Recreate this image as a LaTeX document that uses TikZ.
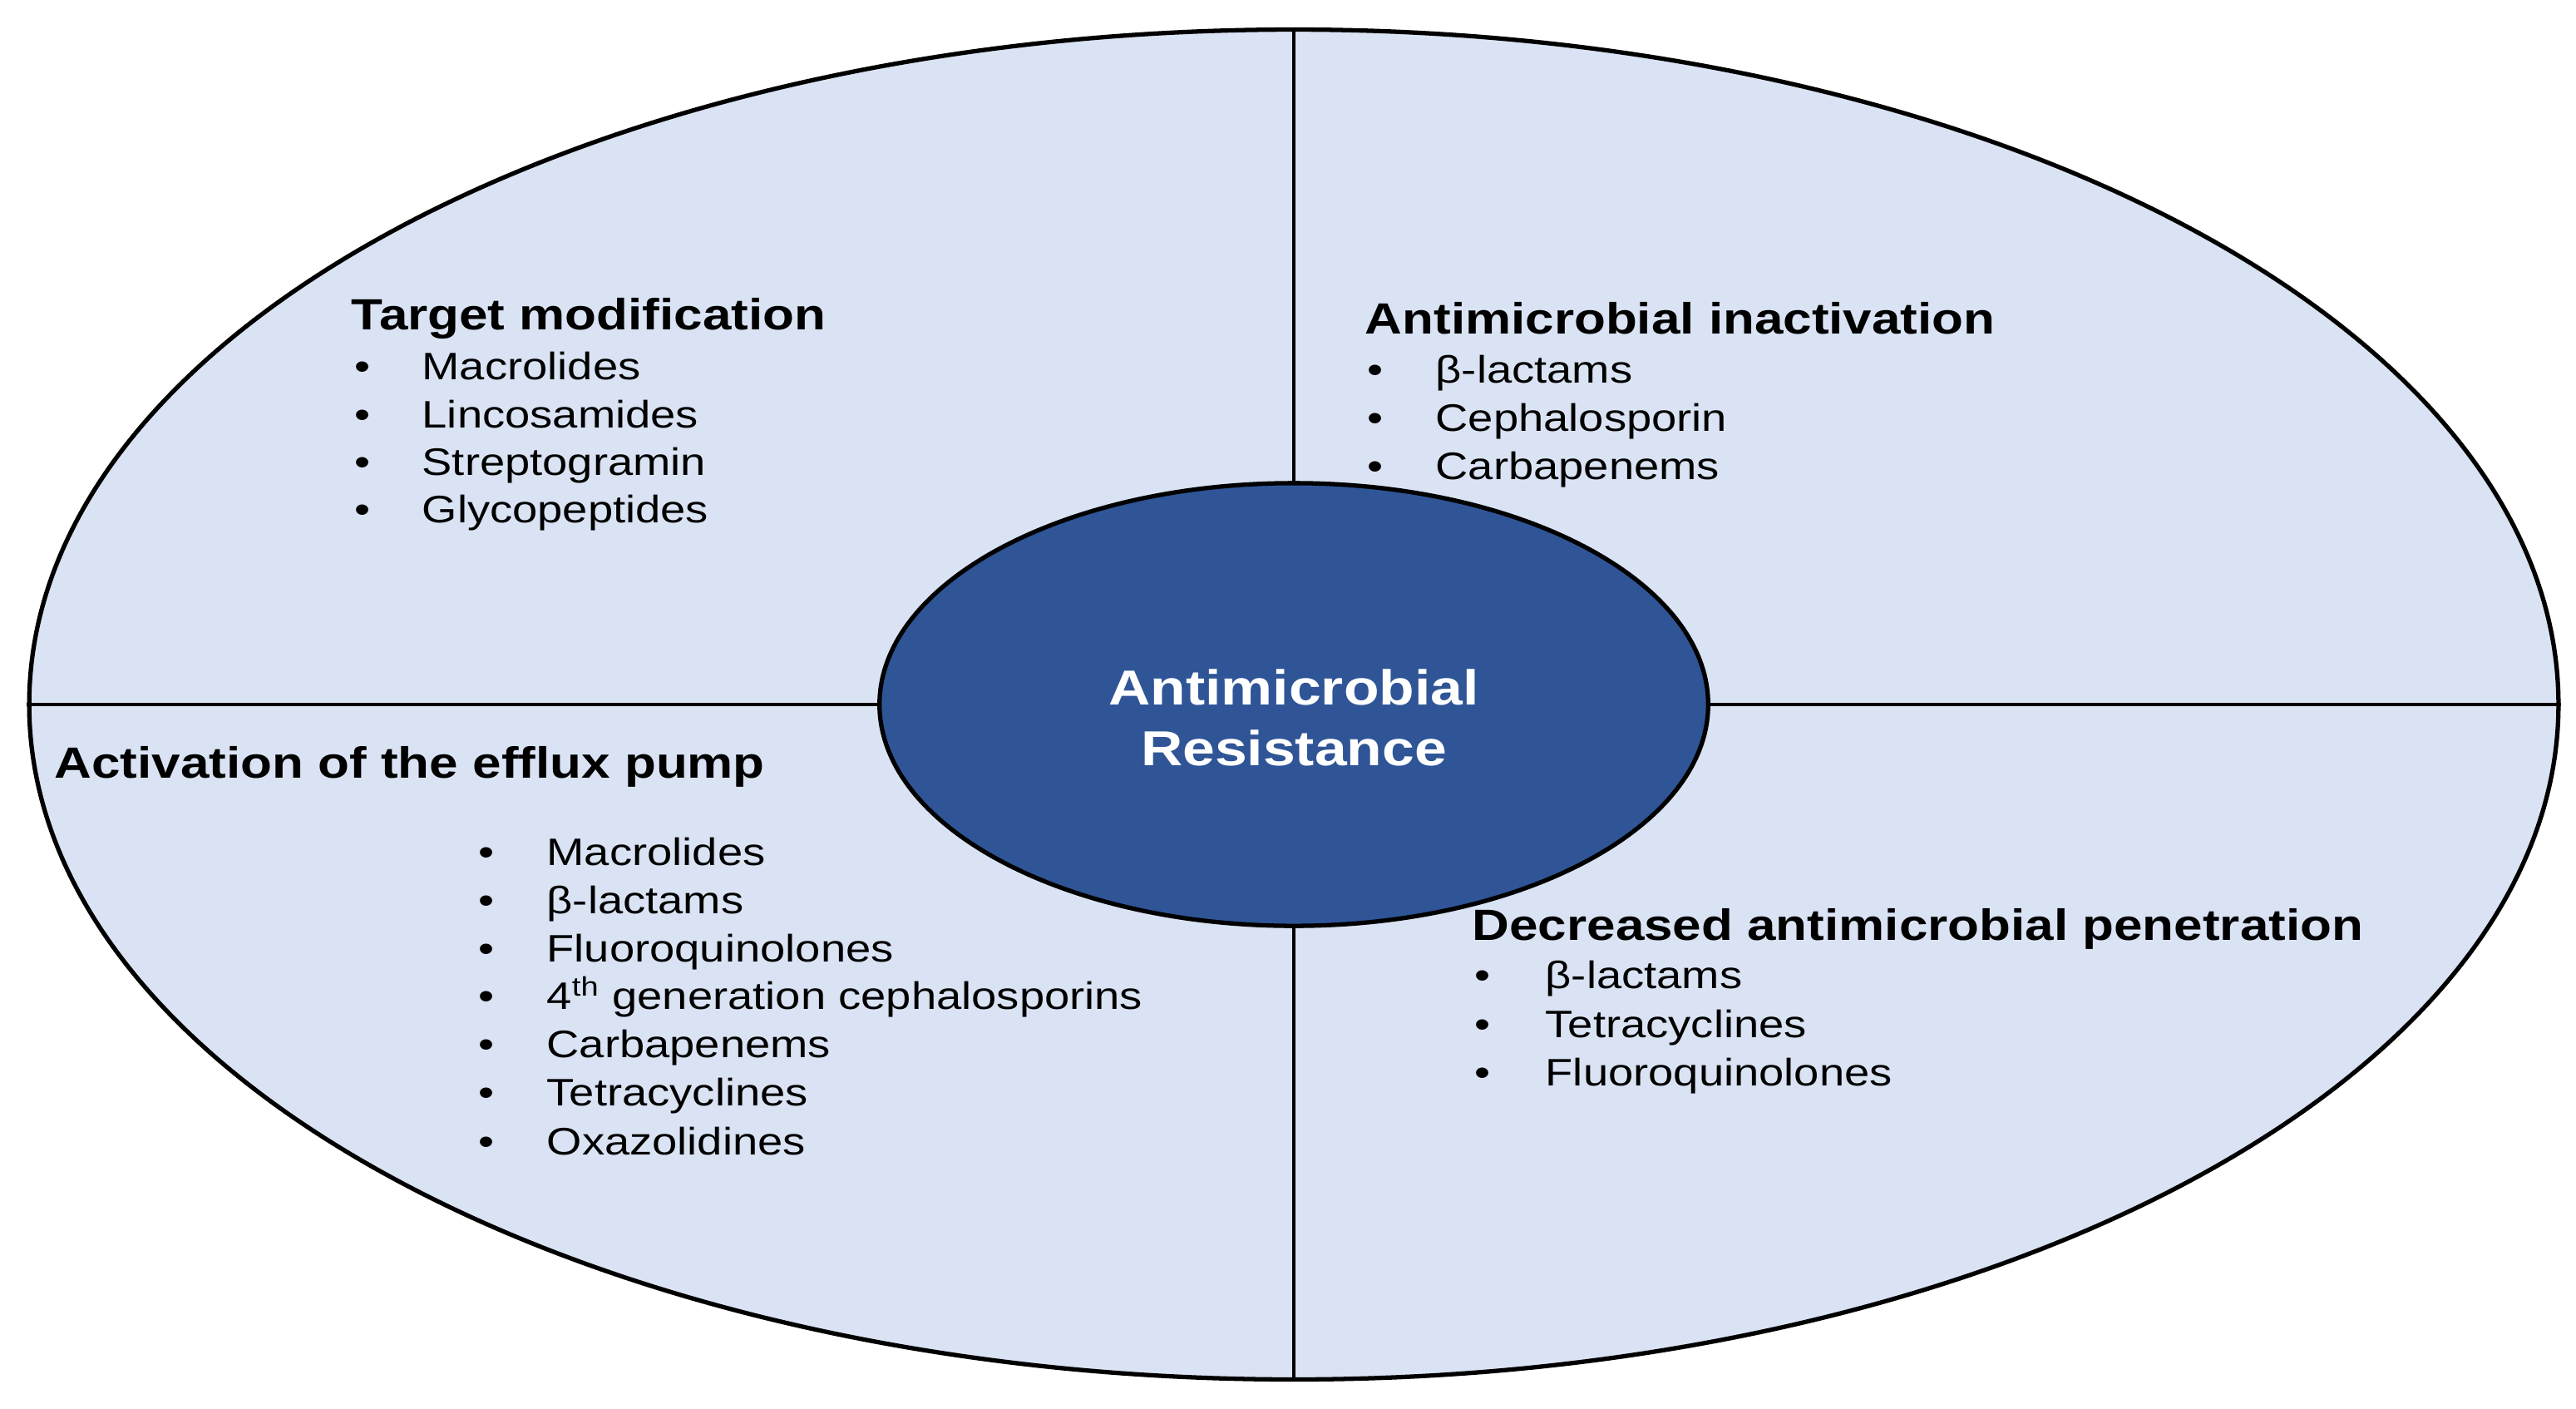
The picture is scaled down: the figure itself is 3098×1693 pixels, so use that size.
\documentclass[tikz,border=0pt]{standalone}
\usepackage{fontspec}
\setmainfont{Liberation Sans}[FakeStretch=1.18]
\usetikzlibrary{shapes.geometric}
\definecolor{outerfill}{HTML}{DAE3F3}
\definecolor{innerfill}{HTML}{2F5597}
\tikzset{
  heading/.style={anchor=base west, inner sep=0pt, font=\fontsize{14.94pt}{18pt}\selectfont\bfseries},
  item/.style={anchor=base west, inner sep=0pt, font=\fontsize{13.1pt}{16pt}\selectfont},
  centertext/.style={anchor=base, inner sep=0pt, text=white, font=\fontsize{16.79pt}{20pt}\selectfont\bfseries},
  divider/.style={draw=black, line width=1.2pt},
}
\begin{document}
\begin{tikzpicture}[x=0.01cm, y=-0.01cm]
\useasboundingbox (0,0) rectangle (3098,1693);
\node[ellipse, draw=black, line width=1.5pt, fill=outerfill, inner sep=0pt,
      minimum width=30.40cm, minimum height=16.22cm] (outer) at (1556,847) {};
\node[ellipse, inner sep=0pt, minimum width=9.96cm, minimum height=5.32cm] (innerpos) at (1556,847) {};
\draw[divider] (outer.north) -- (innerpos.north);
\draw[divider] (outer.south) -- (innerpos.south);
\draw[divider] (outer.west) -- (innerpos.west);
\draw[divider] (outer.east) -- (innerpos.east);
\node[ellipse, draw=black, line width=1.5pt, fill=innerfill, inner sep=0pt,
      minimum width=9.96cm, minimum height=5.32cm] (inner) at (1556,847) {};
\node[centertext] (c1) at (1556,847) {Antimicrobial};
\node[centertext] (c2) at (1556,920) {Resistance};
% Target modification
\node[heading] (tmh) at (422,396) {Target modification};
\foreach \y/\t [count=\i] in {456/Macrolides, 514/Lincosamides, 571/Streptogramin, 628/Glycopeptides}{
  \node[item] (tmb\i) at (426,\y) {•};
  \node[item] (tmt\i) at (507,\y) {\t};
}
% Antimicrobial inactivation
\node[heading] (aih) at (1641,401) {Antimicrobial inactivation};
\foreach \y/\t [count=\i] in {460/β-lactams, 518/Cephalosporin, 576/Carbapenems}{
  \node[item] (aib\i) at (1644,\y) {•};
  \node[item] (ait\i) at (1726,\y) {\t};
}
% Activation of the efflux pump
\node[heading] (efh) at (65,935) {Activation of the efflux pump};
\foreach \y/\t [count=\i] in {1040/Macrolides, 1098/β-lactams, 1156/Fluoroquinolones, 1213/{4\textsuperscript{th} generation cephalosporins}, 1271/Carbapenems, 1329/Tetracyclines, 1388/Oxazolidines}{
  \node[item] (efb\i) at (575,\y) {•};
  \node[item] (eft\i) at (657,\y) {\t};
}
% Decreased antimicrobial penetration
\node[heading] (dph) at (1770,1130) {Decreased antimicrobial penetration};
\foreach \y/\t [count=\i] in {1188/β-lactams, 1247/Tetracyclines, 1305/Fluoroquinolones}{
  \node[item] (dpb\i) at (1773,\y) {•};
  \node[item] (dpt\i) at (1858,\y) {\t};
}
\end{tikzpicture}
\end{document}
